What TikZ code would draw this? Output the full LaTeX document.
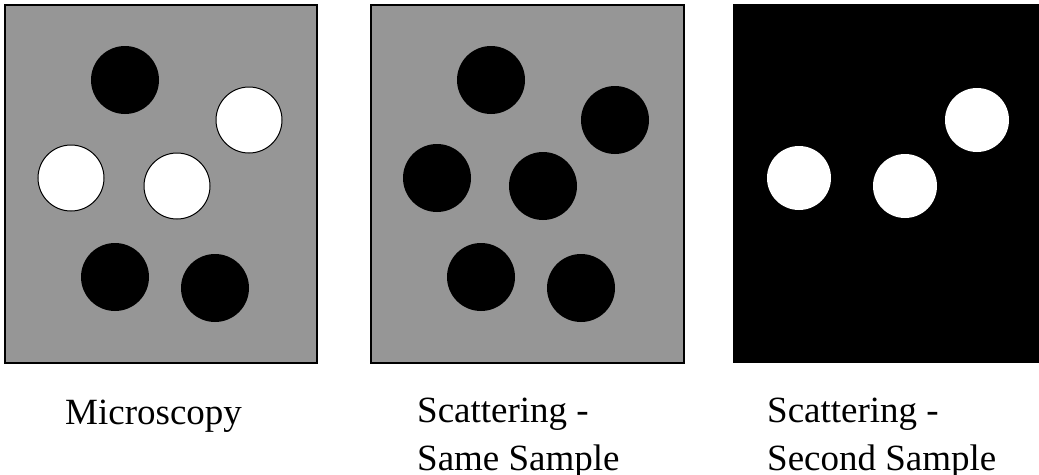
\documentclass[tikz,border=0pt]{standalone}
\usepackage{fontspec}
\setmainfont{Liberation Serif}
\usepackage{tikz}

\definecolor{panelgray}{RGB}{150,150,150}
\tikzset{
  captext/.style={font=\fontsize{37}{48}\selectfont, inner sep=0pt, align=left},
  panel/.style={line width=1.5pt, fill=panelgray},
}

\begin{document}
\begin{tikzpicture}[x=1pt,y=-1pt]
  \useasboundingbox (0,0) rectangle (1039,474);
  % microscopy
  \draw[panel] (5,5) rectangle (317,363);
  \foreach \x/\y in {125/80,115/277,215/288} {
    \fill (\x,\y) circle (34pt);
  }
  \foreach \x/\y in {249/120,71/178,177/186} {
    \draw[line width=1pt,fill=white] (\x,\y) circle (33pt);
  }
  % scattering, same sample
  \draw[panel] (371,5) rectangle (684,363);
  \foreach \x/\y in {491/80,615/120,437/178,543/186,481/277,581/288} {
    \fill (\x,\y) circle (34pt);
  }
  % scattering, second sample
  \fill (733,4) rectangle (1039,363);
  \foreach \x/\y in {799/178,905/186,977/120} {
    \fill[white] (\x,\y) circle (32pt);
  }
  \node[captext, anchor=base west] (micro) at (65,424) {Microscopy};
  \node[captext, anchor=north west] (same) at (417,398) {Scattering -\\Same Sample};
  \node[captext, anchor=north west] (second) at (767,398) {Scattering -\\Second Sample};
\end{tikzpicture}
\end{document}
